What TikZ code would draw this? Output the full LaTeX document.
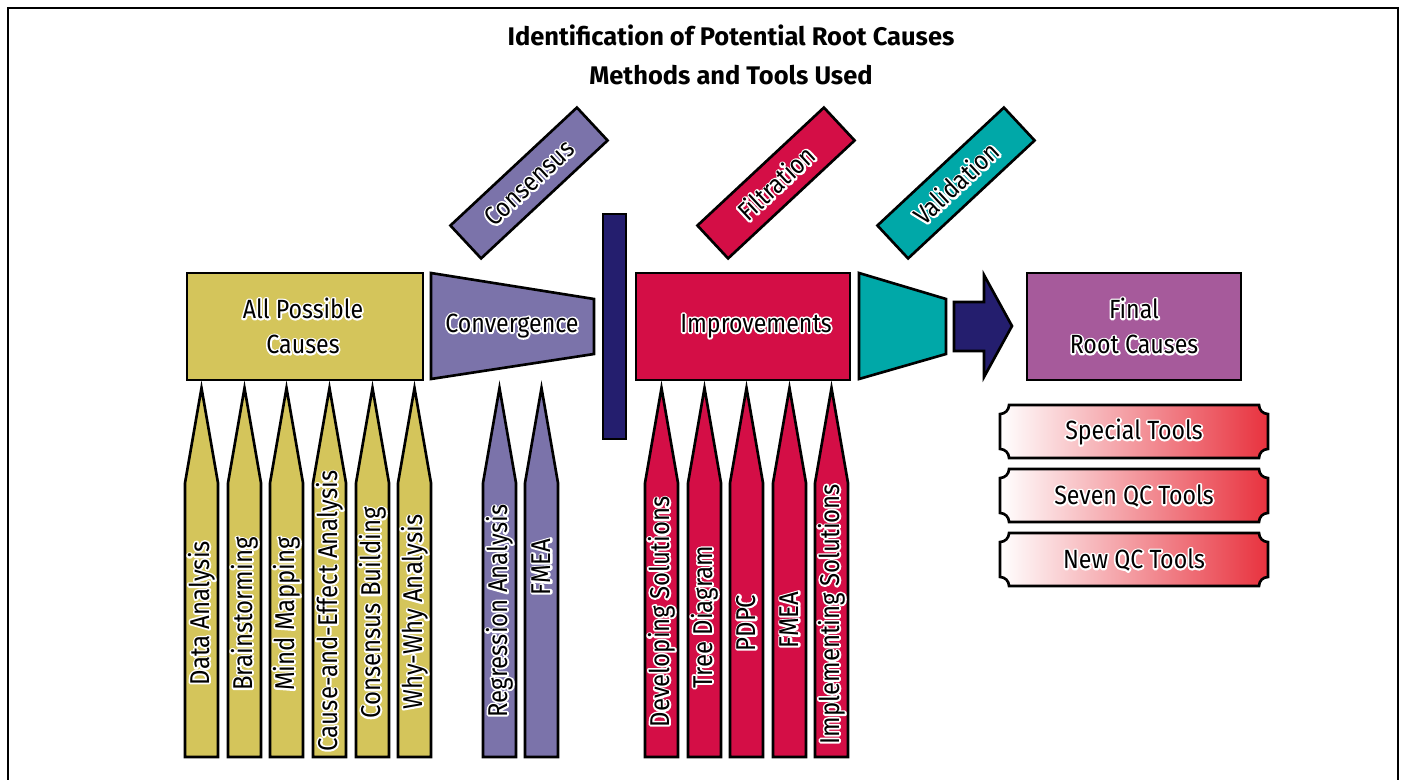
\documentclass[tikz,border=0pt]{standalone}
\usepackage{fontspec}
\setmainfont{Fira Sans}
\newfontfamily\narrowfont{Fira Sans}[FakeStretch=0.88]
\usepackage{tikz}
\definecolor{causey}{RGB}{212,197,91}
\definecolor{convp}{RGB}{123,115,170}
\definecolor{barnavy}{RGB}{36,30,110}
\definecolor{imprr}{RGB}{212,14,70}
\definecolor{validt}{RGB}{0,168,168}
\definecolor{finalp}{RGB}{166,90,155}
\definecolor{toolr}{RGB}{232,50,62}
\newcommand{\halo}[1]{\leavevmode\rlap{\special{pdf:literal direct 1 Tr 2 w 1 j}\textcolor{white}{#1}\special{pdf:literal direct 0 Tr 1.494 w 0 j}}#1}

\begin{document}
\begin{tikzpicture}[x=0.02cm,y=-0.02cm,line width=1.5pt,line join=miter]
    \tikzset{box/.style={draw,minimum width=4.28cm,minimum height=2.14cm},
             lbl/.style={font=\narrowfont\fontsize{15}{20}\selectfont,align=center},
             tilt/.style={draw,rotate=43,minimum width=3.46cm,minimum height=0.9cm,
                          font=\narrowfont\fontsize{15}{18}\selectfont},
             penlbl/.style={rotate=90,font=\narrowfont\fontsize{15.5}{17}\selectfont},
             title/.style={font=\bfseries\fontsize{14.5}{16}\selectfont}}

    \useasboundingbox (0,0) rectangle (1403,780);
    \draw[line width=1.2pt] (8,780) -- (8,8) -- (1398,8) -- (1398,780);

    \node[title] (t1) at (731,35) {Identification of Potential Root Causes};
    \node[title] (t2) at (731,75) {Methods and Tools Used};

    \node[box,fill=causey,minimum width=4.72cm] (causes) at (305,326.5) {};
    \node[lbl] (causestxt) at (303,326) {\halo{All Possible}\\\halo{Causes}};

    \draw[fill=convp] (431,273) -- (594,299) -- (594,354) -- (431,379) -- cycle;
    \node[lbl] (conv) at (512,326) {\halo{Convergence}};

    \draw[fill=barnavy] (603,214) rectangle (626,439);

    \node[box,fill=imprr] (improve) at (743,326.5) {};
    \node[lbl] (improvetxt) at (756,326) {\halo{Improvements}};

    \draw[fill=validt] (859,273) -- (946,299) -- (946,354) -- (859,379) -- cycle;

    \draw[fill=barnavy] (954,302) -- (984,302) -- (984,275) -- (1012,326)
        -- (984,377) -- (984,351) -- (954,351) -- cycle;

    \node[box,fill=finalp] (final) at (1134,326.5) {};
    \node[lbl] (finaltxt) at (1134,326) {\halo{Final}\\\halo{Root Causes}};

    \node[tilt,fill=convp] (consensus) at (529,183) {\halo{Consensus}};
    \node[tilt,fill=imprr] (filtration) at (776,183) {\halo{Filtration}};
    \node[tilt,fill=validt] (validation) at (956,183) {\halo{Validation}};

    \foreach \x/\c/\t/\y [count=\i] in {185/causey/Data Analysis/613,
            228/causey/Brainstorming/614, 270/causey/Mind Mapping/614,
            313/causey/Cause-and-Effect Analysis/611, 356/causey/Consensus Building/613,
            398/causey/Why-Why Analysis/612, 483/convp/Regression Analysis/611,
            525/convp/FMEA/567, 645/imprr/Developing Solutions/612,
            688/imprr/Tree Diagram/617, 730/imprr/PDPC/623, 773/imprr/FMEA/620,
            815/imprr/Implementing Solutions/614}
    {
        \draw[fill=\c] (\x,757) -- (\x,483) -- (\x+16.5,388) -- (\x+33,483) -- (\x+33,757) -- cycle;
        \node[penlbl] (pen\i) at (\x+16.5,\y) {\halo{\t}};
    }

    \foreach \y/\t [count=\i] in {405/Special Tools, 469/Seven QC Tools, 533/New QC Tools}
    {
        \draw[left color=white,right color=toolr] (1009,\y) -- (1259,\y)
            arc[start angle=180,end angle=90,radius=9] -- (1268,\y+44)
            arc[start angle=270,end angle=180,radius=9] -- (1009,\y+53)
            arc[start angle=0,end angle=-90,radius=9] -- (1000,\y+9)
            arc[start angle=90,end angle=0,radius=9] -- cycle;
        \node[lbl] (tool\i) at (1134,\y+27) {\halo{\t}};
    }
\end{tikzpicture}
\end{document}
